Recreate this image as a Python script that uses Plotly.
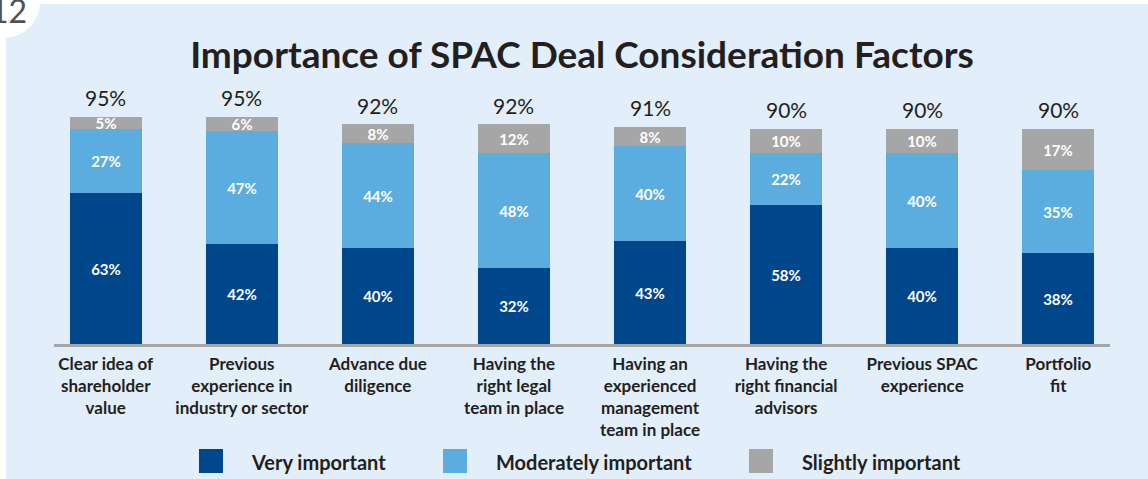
import plotly.graph_objects as go

categories = [
    "Clear idea of<br>shareholder<br>value",
    "Previous<br>experience in<br>industry or sector",
    "Advance due<br>diligence",
    "Having the<br>right legal<br>team in place",
    "Having an<br>experienced<br>management<br>team in place",
    "Having the<br>right financial<br>advisors",
    "Previous SPAC<br>experience",
    "Portfolio<br>fit",
]
very_important = [63, 42, 40, 32, 43, 58, 40, 38]
moderately_important = [27, 47, 44, 48, 40, 22, 40, 35]
slightly_important = [5, 6, 8, 12, 8, 10, 10, 17]
totals = [95, 95, 92, 92, 91, 90, 90, 90]
series_names = ["Very important", "Moderately important", "Slightly important"]
colors = ["#00468b", "#5badE0", "#a6a6a6"]

W, H = 1148, 479
L, R, T, B = 54, 38, 105, 135
PW, PH = W - L - R, H - T - B
FONT = "Lato"
DARK = "#231f20"
BG = "#e2eef9"


def px2x(px):
    return (px - L) / PW


def py2y(py):
    return (H - B - py) / PH


x_idx = list(range(len(categories)))
fig = go.Figure()
for name, vals, col in zip(series_names, [very_important, moderately_important, slightly_important], colors):
    fig.add_trace(go.Bar(
        x=x_idx, y=vals, name=name, marker=dict(color=col, line=dict(width=0)),
        width=0.53, text=[f"{v}%" for v in vals], textposition="inside",
        insidetextanchor="middle", textangle=0, constraintext="none",
        textfont=dict(family=FONT, size=15, color="white", weight="bold"),
        showlegend=False, hoverinfo="skip",
    ))

annotations = []
for i, t in enumerate(totals):
    annotations.append(dict(
        x=i, y=t, xref="x", yref="y", text=f"{t}%", showarrow=False,
        yanchor="middle", yshift=19,
        font=dict(family=FONT, size=21, color=DARK),
    ))

shapes = []
# white outer strips and the page-number circle
shapes.append(dict(type="rect", xref="paper", yref="paper", x0=px2x(-5), x1=px2x(W + 5),
                   y0=py2y(4), y1=py2y(-5), fillcolor="white", line=dict(width=0), layer="below"))
shapes.append(dict(type="rect", xref="paper", yref="paper", x0=px2x(-5), x1=px2x(6),
                   y0=py2y(H + 5), y1=py2y(-5), fillcolor="white", line=dict(width=0), layer="below"))
shapes.append(dict(type="circle", xref="paper", yref="paper", x0=px2x(-32), x1=px2x(40),
                   y0=py2y(38), y1=py2y(-34), fillcolor="white", line=dict(width=0), layer="below"))
annotations.append(dict(x=px2x(29), y=py2y(10), xref="paper", yref="paper", text="12",
                        showarrow=False, xanchor="right", yanchor="middle",
                        font=dict(family=FONT, size=32, color="#4d5259")))

# legend
leg_sq = [199, 443, 749]
leg_tx = [252, 497, 803]
for name, col, sx, tx in zip(series_names, colors, leg_sq, leg_tx):
    shapes.append(dict(type="rect", xref="paper", yref="paper", x0=px2x(sx), x1=px2x(sx + 24),
                       y0=py2y(473), y1=py2y(449), fillcolor=col, line=dict(width=0)))
    annotations.append(dict(x=px2x(tx - 3), y=py2y(462), xref="paper", yref="paper", text=name,
                            showarrow=False, xanchor="left", yanchor="middle",
                            font=dict(family=FONT, size=20, color=DARK, weight="bold")))

fig.update_layout(
    width=W, height=H,
    margin=dict(l=L, r=R, t=T, b=B, pad=0),
    paper_bgcolor=BG, plot_bgcolor=BG,
    barmode="stack", bargap=0,
    title=dict(text="Importance of SPAC Deal Consideration Factors", x=582 / W, xanchor="center",
               y=1 - 55 / H, yref="container", yanchor="middle",
               font=dict(family=FONT, size=37, color=DARK, weight="bold")),
    xaxis=dict(range=[-0.38, 7.38], tickvals=x_idx, ticktext=categories, ticks="",
               ticklabelstandoff=3,
               showgrid=False, zeroline=False, showline=True, linecolor="#a6a6a6", linewidth=2.5,
               tickfont=dict(family=FONT, size=17, color=DARK, weight="bold"), fixedrange=True),
    yaxis=dict(range=[0, 100], visible=False, showgrid=False, zeroline=False, fixedrange=True),
    uniformtext=dict(minsize=15, mode="show"),
    annotations=annotations, shapes=shapes,
    showlegend=False,
)

fig.write_html("out.html", config={"displayModeBar": False},
               post_script="document.body.style.margin='0px';document.body.style.padding='0px';")
